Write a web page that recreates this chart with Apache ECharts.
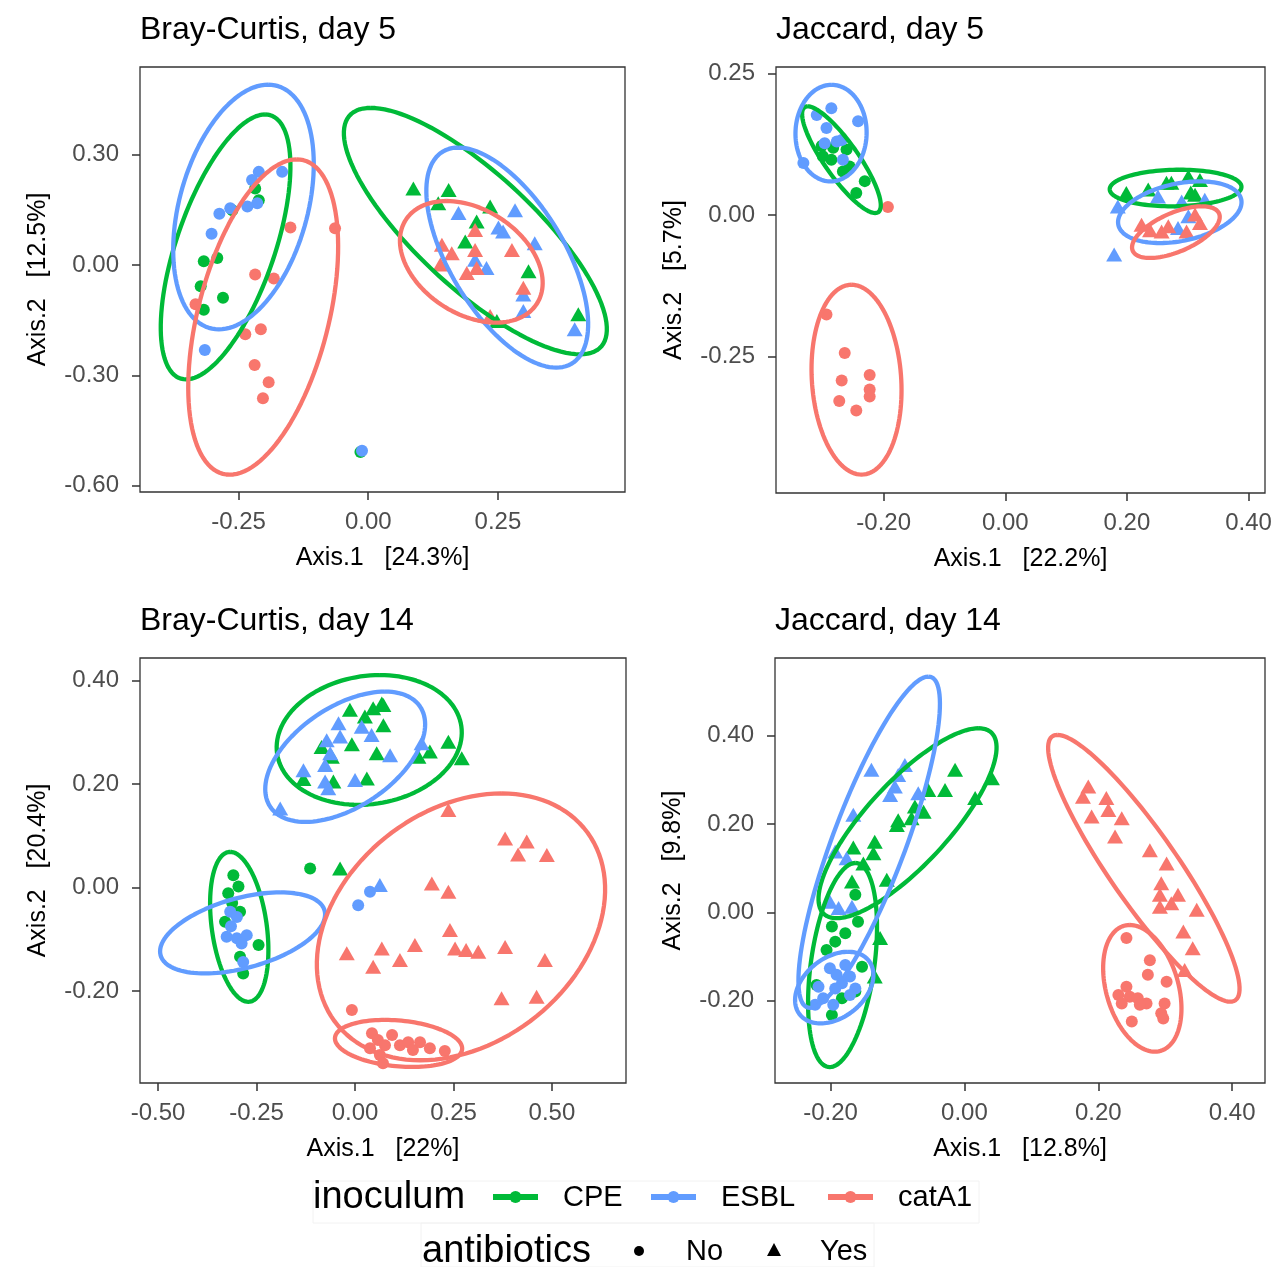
<!DOCTYPE html>
<html>
<head>
<meta charset="utf-8">
<script src="https://cdn.jsdelivr.net/npm/echarts@6/dist/echarts.min.js"></script>
<style>
  html, body { margin: 0; padding: 0; background: #ffffff; }
  #chart { width: 1281px; height: 1267px; }
</style>
</head>
<body>
<div id="chart"></div>
<script>
// ---------- Bray-Curtis, day 5 ----------
const bc5_CPE_No = [[-0.218,0.208],[-0.211,0.176],[-0.262,0.149],[-0.317,0.010],[-0.291,0.019],[-0.323,-0.058],[-0.280,-0.089],[-0.317,-0.122],[-0.015,-0.508]];
const bc5_ESBL_No = [[-0.211,0.253],[-0.224,0.231],[-0.166,0.253],[-0.214,0.168],[-0.233,0.159],[-0.266,0.154],[-0.287,0.139],[-0.302,0.085],[-0.315,-0.231],[-0.012,-0.505]];
const bc5_catA1_No = [[-0.150,0.102],[-0.064,0.100],[-0.218,-0.026],[-0.182,-0.037],[-0.333,-0.107],[-0.237,-0.188],[-0.207,-0.175],[-0.219,-0.272],[-0.192,-0.319],[-0.203,-0.362]];
const bc5_CPE_Yes = [[0.087,0.208],[0.155,0.204],[0.135,0.168],[0.235,0.159],[0.209,0.118],[0.187,0.064],[0.309,-0.017],[0.405,-0.134],[0.248,-0.152]];
const bc5_ESBL_Yes = [[0.174,0.141],[0.283,0.149],[0.251,0.102],[0.260,0.091],[0.321,0.059],[0.206,0.014],[0.228,-0.008],[0.299,-0.080],[0.299,-0.125],[0.398,-0.175]];
const bc5_catA1_Yes = [[0.142,0.055],[0.161,0.032],[0.206,0.041],[0.277,0.041],[0.139,0.001],[0.190,-0.022],[0.209,-0.008],[0.299,-0.062],[0.235,-0.139],[0.206,0.095]];
// ellipses: [centre x, centre y, half width, half height, x of topmost point]
const bc5_CPE_ell = [[-0.275,0.049,0.125,0.360,-0.199],[0.2065,0.092,0.2535,0.335,0.005]];
const bc5_ESBL_ell = [[-0.2405,0.1575,0.1355,0.3325,-0.193],[0.268,0.020,0.156,0.299,0.1735]];
const bc5_catA1_ell = [[-0.2025,-0.1415,0.1445,0.4285,-0.138],[0.1987,0.0086,0.1376,0.1652,0.151]];
const bc5_xTicks = [-0.25, 0, 0.25];
const bc5_yTicks = [-0.6, -0.3, 0, 0.3];

// ---------- Jaccard, day 5 ----------
const jac5_CPE_No = [[-0.302,0.122],[-0.283,0.119],[-0.261,0.116],[-0.300,0.104],[-0.286,0.098],[-0.256,0.086],[-0.267,0.077],[-0.231,0.060],[-0.245,0.039]];
const jac5_ESBL_No = [[-0.286,0.189],[-0.310,0.177],[-0.294,0.154],[-0.242,0.166],[-0.297,0.127],[-0.277,0.130],[-0.269,0.133],[-0.267,0.098],[-0.332,0.092]];
const jac5_catA1_No = [[-0.193,0.014],[-0.294,-0.176],[-0.264,-0.244],[-0.269,-0.293],[-0.223,-0.283],[-0.223,-0.309],[-0.223,-0.321],[-0.273,-0.329],[-0.245,-0.346]];
const jac5_CPE_Yes = [[0.199,0.039],[0.235,0.045],[0.265,0.057],[0.273,0.057],[0.301,0.068],[0.312,0.036],[0.320,0.062],[0.305,0.040]];
const jac5_ESBL_Yes = [[0.185,0.015],[0.251,0.033],[0.290,0.024],[0.328,0.027],[0.301,-0.002],[0.284,-0.023],[0.179,-0.070]];
const jac5_catA1_Yes = [[0.224,-0.017],[0.257,-0.029],[0.268,-0.020],[0.298,-0.029],[0.320,-0.014],[0.312,0.001],[0.238,-0.027]];
const jac5_CPE_ell = [[-0.2694,0.0979,0.0647,0.0944,-0.3247],[0.2800,0.0478,0.1083,0.0324,0.2869]];
const jac5_ESBL_ell = [[-0.2865,0.145,0.0585,0.0855,-0.2857],[0.2869,0.005,0.1015,0.0546,0.3197]];
const jac5_catA1_ell = [[-0.2446,-0.2914,0.074,0.168,-0.2528],[0.2805,-0.0303,0.0721,0.0457,0.323]];
const jac5_xTicks = [-0.2, 0, 0.2, 0.4];
const jac5_yTicks = [-0.25, 0, 0.25];

// ---------- Bray-Curtis, day 14 ----------
const bc14_CPE_No = [[-0.309,0.024],[-0.296,0.002],[-0.322,-0.011],[-0.312,-0.030],[-0.292,-0.047],[-0.330,-0.066],[-0.245,-0.111],[-0.292,-0.134],[-0.284,-0.166],[-0.114,0.037]];
const bc14_ESBL_No = [[-0.317,-0.047],[-0.300,-0.057],[-0.315,-0.075],[-0.326,-0.095],[-0.300,-0.098],[-0.275,-0.092],[-0.288,-0.108],[-0.284,-0.144],[0.038,-0.008],[0.008,-0.034]];
const bc14_catA1_No = [[-0.008,-0.237],[0.043,-0.282],[0.058,-0.295],[0.076,-0.305],[0.063,-0.324],[0.071,-0.340],[0.094,-0.285],[0.114,-0.305],[0.135,-0.299],[0.147,-0.314],[0.165,-0.299],[0.190,-0.311],[0.228,-0.316],[0.038,-0.311]];
const bc14_CPE_Yes = [[-0.013,0.344],[0.025,0.331],[0.046,0.347],[0.068,0.356],[0.072,0.314],[-0.085,0.272],[-0.008,0.277],[0.055,0.260],[-0.059,0.253],[0.030,0.211],[-0.131,0.210],[-0.055,0.205],[0.072,0.353],[0.190,0.263],[0.161,0.253],[0.237,0.282],[0.271,0.250],[-0.038,0.037]];
const bc14_ESBL_Yes = [[-0.042,0.318],[0.017,0.311],[0.042,0.295],[-0.072,0.285],[-0.038,0.292],[-0.063,0.260],[-0.076,0.237],[-0.131,0.227],[-0.076,0.205],[-0.068,0.192],[0.000,0.208],[-0.190,0.153],[0.089,0.256],[0.169,0.279],[0.063,0.005]];
const bc14_catA1_Yes = [[0.237,0.150],[0.381,0.095],[0.436,0.089],[0.414,0.064],[0.487,0.063],[0.195,0.008],[0.237,-0.008],[0.241,-0.082],[0.254,-0.118],[0.282,-0.121],[0.313,-0.124],[0.381,-0.115],[0.152,-0.111],[0.114,-0.140],[0.482,-0.140],[0.372,-0.214],[0.461,-0.211],[0.068,-0.118],[-0.021,-0.127],[0.046,-0.153]];
const bc14_CPE_ell = [[0.036,0.2855,0.235,0.1255,0.063],[-0.294,-0.076,0.074,0.145,-0.317]];
const bc14_ESBL_ell = [[-0.025,0.253,0.203,0.126,0.076],[-0.2855,-0.0877,0.2095,0.0784,-0.190]];
const bc14_catA1_ell = [[0.269,-0.076,0.366,0.258,0.372],[0.1105,-0.3015,0.1615,0.0455,0.076]];
const bc14_xTicks = [-0.5, -0.25, 0, 0.25, 0.5];
const bc14_yTicks = [-0.2, 0, 0.2, 0.4];

// ---------- Jaccard, day 14 ----------
const jac14_CPE_No = [[-0.163,0.040],[-0.198,-0.032],[-0.178,-0.047],[-0.193,-0.066],[-0.206,-0.085],[-0.159,-0.021],[-0.153,-0.123],[-0.221,-0.164],[-0.163,-0.179],[-0.198,-0.232],[-0.183,-0.194]];
const jac14_ESBL_No = [[-0.218,-0.168],[-0.201,-0.126],[-0.191,-0.141],[-0.183,-0.160],[-0.211,-0.194],[-0.193,-0.172],[-0.171,-0.145],[-0.163,-0.172],[-0.223,-0.209],[-0.196,-0.209],[-0.171,-0.187],[-0.178,-0.119]];
const jac14_catA1_No = [[0.242,-0.058],[0.277,-0.108],[0.274,-0.141],[0.302,-0.157],[0.242,-0.168],[0.230,-0.187],[0.247,-0.191],[0.259,-0.194],[0.272,-0.206],[0.235,-0.206],[0.299,-0.206],[0.294,-0.228],[0.297,-0.240],[0.250,-0.247],[0.262,-0.209]];
const jac14_CPE_Yes = [[-0.014,0.323],[0.041,0.304],[0.016,0.259],[-0.029,0.277],[-0.054,0.277],[-0.074,0.240],[-0.061,0.228],[-0.079,0.213],[-0.099,0.209],[-0.101,0.198],[-0.134,0.160],[-0.166,0.147],[-0.136,0.134],[-0.151,0.111],[-0.168,0.070],[-0.116,0.074],[-0.126,-0.058],[-0.134,-0.145]];
const jac14_ESBL_Yes = [[-0.139,0.323],[-0.089,0.334],[-0.099,0.311],[-0.104,0.285],[-0.111,0.266],[-0.069,0.270],[-0.166,0.221],[-0.193,0.138],[-0.176,0.123],[-0.188,0.010],[-0.168,0.013],[-0.201,0.024]];
const jac14_catA1_Yes = [[0.185,0.285],[0.177,0.262],[0.212,0.259],[0.215,0.232],[0.190,0.217],[0.235,0.213],[0.225,0.172],[0.277,0.141],[0.302,0.111],[0.294,0.066],[0.292,0.040],[0.319,0.040],[0.292,0.013],[0.309,0.021],[0.347,0.006],[0.327,-0.043],[0.341,-0.081],[0.329,-0.130]];
const jac14_CPE_ell = [[-0.085,0.202,0.133,0.215,0.021],[-0.1821,-0.119,0.0515,0.231,-0.163]];
const jac14_ESBL_ell = [[-0.1423,0.159,0.1057,0.375,-0.054],[-0.1945,-0.170,0.0585,0.081,-0.174]];
const jac14_catA1_ell = [[0.268,0.100,0.143,0.302,0.139],[0.2657,-0.1717,0.0585,0.1434,0.247]];
const jac14_xTicks = [-0.2, 0, 0.2, 0.4];
const jac14_yTicks = [-0.2, 0, 0.2, 0.4];

const inocula = ['CPE', 'ESBL', 'catA1'];
const antibiotics = ['No', 'Yes'];

// ---------- styling ----------
const FONT = "'Liberation Sans', Arial, sans-serif";
const COLORS = { CPE: '#00BA38', ESBL: '#619CFF', catA1: '#F8766D' };
const SHAPES = { No: { symbol: 'circle', size: 12 }, Yes: { symbol: 'triangle', size: [16, 14] } };

const panels = [
  { title: 'Bray-Curtis, day 5', xName: 'Axis.1   [24.3%]', yName: 'Axis.2   [12.5%]',
    grid: { left: 140, top: 67, width: 485, height: 425 }, titleTop: 14,
    x: [-0.440, 0.495], y: [-0.617, 0.538], xTicks: bc5_xTicks, yTicks: bc5_yTicks,
    pts: { CPE: { No: bc5_CPE_No, Yes: bc5_CPE_Yes }, ESBL: { No: bc5_ESBL_No, Yes: bc5_ESBL_Yes }, catA1: { No: bc5_catA1_No, Yes: bc5_catA1_Yes } },
    ell: { CPE: bc5_CPE_ell, ESBL: bc5_ESBL_ell, catA1: bc5_catA1_ell } },
  { title: 'Jaccard, day 5', xName: 'Axis.1   [22.2%]', yName: 'Axis.2   [5.7%]',
    grid: { left: 776, top: 67, width: 489, height: 426 }, titleTop: 14,
    x: [-0.377, 0.427], y: [-0.492, 0.262], xTicks: jac5_xTicks, yTicks: jac5_yTicks,
    pts: { CPE: { No: jac5_CPE_No, Yes: jac5_CPE_Yes }, ESBL: { No: jac5_ESBL_No, Yes: jac5_ESBL_Yes }, catA1: { No: jac5_catA1_No, Yes: jac5_catA1_Yes } },
    ell: { CPE: jac5_CPE_ell, ESBL: jac5_ESBL_ell, catA1: jac5_catA1_ell } },
  { title: 'Bray-Curtis, day 14', xName: 'Axis.1   [22%]', yName: 'Axis.2   [20.4%]',
    grid: { left: 140, top: 658, width: 486, height: 425 }, titleTop: 605,
    x: [-0.546, 0.688], y: [-0.378, 0.444], xTicks: bc14_xTicks, yTicks: bc14_yTicks,
    pts: { CPE: { No: bc14_CPE_No, Yes: bc14_CPE_Yes }, ESBL: { No: bc14_ESBL_No, Yes: bc14_ESBL_Yes }, catA1: { No: bc14_catA1_No, Yes: bc14_catA1_Yes } },
    ell: { CPE: bc14_CPE_ell, ESBL: bc14_ESBL_ell, catA1: bc14_catA1_ell } },
  { title: 'Jaccard, day 14', xName: 'Axis.1   [12.8%]', yName: 'Axis.2   [9.8%]',
    grid: { left: 775, top: 658, width: 490, height: 425 }, titleTop: 605,
    x: [-0.283, 0.449], y: [-0.386, 0.576], xTicks: jac14_xTicks, yTicks: jac14_yTicks,
    pts: { CPE: { No: jac14_CPE_No, Yes: jac14_CPE_Yes }, ESBL: { No: jac14_ESBL_No, Yes: jac14_ESBL_Yes }, catA1: { No: jac14_catA1_No, Yes: jac14_catA1_Yes } },
    ell: { CPE: jac14_CPE_ell, ESBL: jac14_ESBL_ell, catA1: jac14_catA1_ell } }
];

const fmt = v => v.toFixed(2);

function axisCommon(ticks) {
  return {
    type: 'value',
    axisLine: { show: false, onZero: false },
    axisTick: { show: true, inside: false, length: 8, customValues: ticks, lineStyle: { color: '#333333', width: 1.5 } },
    axisLabel: { show: true, customValues: ticks, formatter: fmt, color: '#4D4D4D', fontSize: 24, fontFamily: FONT },
    splitLine: { show: false },
    nameLocation: 'middle',
    nameTextStyle: { color: '#000000', fontSize: 25, fontFamily: FONT, lineHeight: 26 }
  };
}

// draws a stat ellipse: centre, half extents and the x of its topmost point
function ellipseRenderer(color) {
  return function (params, api) {
    const cx = api.value(0), cy = api.value(1), hx = api.value(2), hy = api.value(3), tx = api.value(4);
    const dx = tx - cx;
    const w = Math.sqrt(Math.max(hx * hx - dx * dx, 0));
    const pts = [];
    const n = 120;
    for (let i = 0; i <= n; i++) {
      const t = (i / n) * Math.PI * 2;
      pts.push(api.coord([cx + dx * Math.cos(t) + w * Math.sin(t), cy + hy * Math.cos(t)]));
    }
    return { type: 'polyline', shape: { points: pts }, style: { stroke: color, lineWidth: 4.3, fill: null, lineJoin: 'round' } };
  };
}

const grid = [], xAxis = [], yAxis = [], series = [], title = [];
panels.forEach((p, i) => {
  grid.push(Object.assign({ show: true, borderColor: '#333333', borderWidth: 1.3, backgroundColor: '#ffffff' }, p.grid));
  title.push({ text: p.title, left: p.grid.left, top: p.titleTop, padding: 0,
    textStyle: { fontSize: 32, fontWeight: 'normal', color: '#000000', fontFamily: FONT, lineHeight: 33 } });
  const xa = axisCommon(p.xTicks);
  xa.gridIndex = i; xa.min = p.x[0]; xa.max = p.x[1]; xa.position = 'bottom';
  xa.name = p.xName; xa.nameGap = 53; xa.axisLabel.margin = 18;
  xAxis.push(xa);
  const ya = axisCommon(p.yTicks);
  ya.gridIndex = i; ya.min = p.y[0]; ya.max = p.y[1]; ya.position = 'left';
  ya.name = p.yName; ya.nameGap = 89; ya.axisLabel.margin = 21;
  yAxis.push(ya);

  antibiotics.forEach(ab => {
    inocula.forEach(g => {
      series.push({
        type: 'scatter', xAxisIndex: i, yAxisIndex: i,
        name: g + ' ' + ab,
        symbol: SHAPES[ab].symbol, symbolSize: SHAPES[ab].size,
        itemStyle: { color: COLORS[g], opacity: 1 },
        data: p.pts[g][ab], silent: true, z: 2
      });
    });
  });
  inocula.forEach(g => {
    series.push({
      type: 'custom', xAxisIndex: i, yAxisIndex: i,
      renderItem: ellipseRenderer(COLORS[g]),
      encode: { x: 0, y: 1 },
      data: p.ell[g], silent: true, z: 3
    });
  });
});

// legend drawn beneath the panels
const legendGraphics = [
  { type: 'rect', shape: { x: 313, y: 1181, width: 666, height: 42 }, style: { fill: null, stroke: '#F2F2F2', lineWidth: 1 } },
  { type: 'rect', shape: { x: 421, y: 1223, width: 453, height: 44 }, style: { fill: null, stroke: '#F2F2F2', lineWidth: 1 } },
  { type: 'text', x: 313, y: 1198, style: { text: 'inoculum', fontSize: 38, fontFamily: FONT, fill: '#000', verticalAlign: 'middle', align: 'left' } },
  { type: 'text', x: 422, y: 1252, style: { text: 'antibiotics', fontSize: 38, fontFamily: FONT, fill: '#000', verticalAlign: 'middle', align: 'left' } }
];
const keyX = { CPE: [493, 538, 563], ESBL: [651, 696, 721], catA1: [828, 873, 898] };
inocula.forEach(g => {
  const k = keyX[g];
  legendGraphics.push({ type: 'line', shape: { x1: k[0], y1: 1197, x2: k[1], y2: 1197 }, style: { stroke: COLORS[g], lineWidth: 6 } });
  legendGraphics.push({ type: 'circle', shape: { cx: (k[0] + k[1]) / 2, cy: 1197, r: 6 }, style: { fill: COLORS[g] } });
  legendGraphics.push({ type: 'text', x: k[2], y: 1198, style: { text: g, fontSize: 29, fontFamily: FONT, fill: '#000', verticalAlign: 'middle', align: 'left' } });
});
legendGraphics.push({ type: 'circle', shape: { cx: 639, cy: 1251, r: 5 }, style: { fill: '#000' } });
legendGraphics.push({ type: 'text', x: 686, y: 1252, style: { text: antibiotics[0], fontSize: 29, fontFamily: FONT, fill: '#000', verticalAlign: 'middle', align: 'left' } });
legendGraphics.push({ type: 'polygon', shape: { points: [[774, 1243], [767, 1256], [781, 1256]] }, style: { fill: '#000' } });
legendGraphics.push({ type: 'text', x: 820, y: 1252, style: { text: antibiotics[1], fontSize: 29, fontFamily: FONT, fill: '#000', verticalAlign: 'middle', align: 'left' } });

const chart = echarts.init(document.getElementById('chart'), null, { renderer: 'canvas' });
chart.setOption({
  backgroundColor: '#ffffff',
  animation: false,
  title, grid, xAxis, yAxis, series,
  graphic: legendGraphics
});
</script>
</body>
</html>
